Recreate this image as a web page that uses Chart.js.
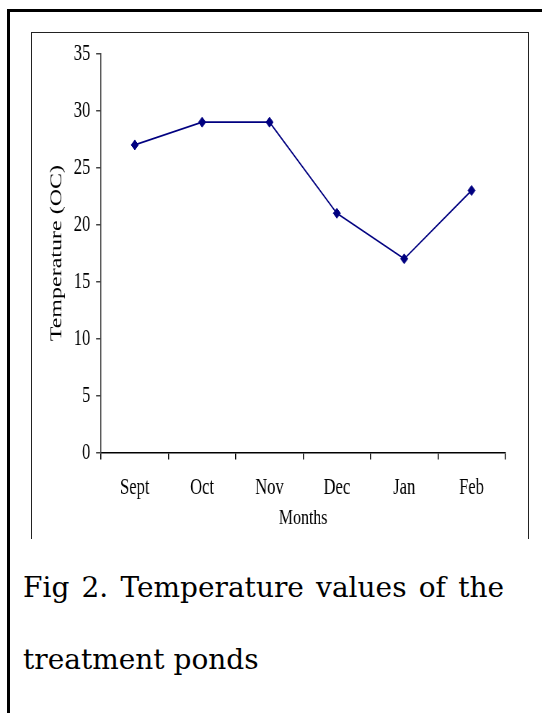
<!DOCTYPE html>
<html>
<head>
<meta charset="utf-8">
<script src="https://cdn.jsdelivr.net/npm/chart.js@4.4.0/dist/chart.umd.min.js"></script>
<style>
html,body{margin:0;padding:0;background:#fff;}
body{width:542px;height:713px;overflow:hidden;position:relative;}
#outer{position:absolute;left:7px;top:9px;width:620px;height:800px;border-left:3px solid #000;border-top:3px solid #000;}
#frame{position:absolute;left:31px;top:32px;width:496px;height:506px;border:1.5px solid #222;border-bottom:none;}
#wrap{position:absolute;left:31px;top:32px;width:691.7px;height:506px;transform:scaleX(0.72);transform-origin:0 0;}
#cap{position:absolute;left:23px;top:552px;width:481px;font-family:"DejaVu Serif",serif;font-size:28px;line-height:72px;color:#000;}
#cap .l1{text-align:justify;text-align-last:justify;}
#cap .l2{text-align:left;}
</style>
</head>
<body>
<div id="outer"></div>
<div id="frame"></div>
<div id="wrap"><canvas id="c"></canvas></div>
<div id="cap"><div class="l1">Fig 2. Temperature values of the</div><div class="l2">treatment ponds</div></div>
<script>
const months = ['Sept', 'Oct', 'Nov', 'Dec', 'Jan', 'Feb'];
const temperature = [27, 29, 29, 21, 17, 23];
const yTicks = [0, 5, 10, 15, 20, 25, 30, 35];
const xTitle = 'Months';
const yTitle = 'Temperature (OC)';

const serif = 'Liberation Serif';

new Chart(document.getElementById('c'), {
  type: 'line',
  data: {
    labels: months,
    datasets: [{
      data: temperature,
      borderColor: '#000080',
      backgroundColor: '#000080',
      borderWidth: 1.7,
      pointStyle: 'rectRot',
      pointRadius: 5,
      pointBorderWidth: 1,
      pointBorderColor: '#000080',
      tension: 0,
      fill: false
    }]
  },
  options: {
    responsive: true,
    maintainAspectRatio: false,
    animation: false,
    layout: { padding: { left: 0, top: 21.5, right: 34, bottom: 0 } },
    plugins: { legend: { display: false }, tooltip: { enabled: false } },
    scales: {
      x: {
        type: 'category',
        offset: true,
        grid: { display: true, offset: true, drawOnChartArea: false, drawTicks: true, tickLength: 7, color: '#000', lineWidth: 1.5 },
        border: { display: true, color: '#000', width: 1.5 },
        ticks: { color: '#000', font: { family: serif, size: 23 }, padding: 15, maxRotation: 0, autoSkip: false },
        title: { display: true, text: xTitle, color: '#000', font: { family: serif, size: 22 }, padding: { top: 0, bottom: 6.8 } },
        afterFit(s) { s.height = 85.5; }
      },
      y: {
        min: yTicks[0],
        max: yTicks[yTicks.length - 1],
        afterBuildTicks(s) { s.ticks = yTicks.map(v => ({ value: v })); },
        grid: { display: true, drawOnChartArea: false, drawTicks: true, tickLength: 7, color: '#444', lineWidth: 1.5 },
        border: { display: true, color: '#444', width: 1.5 },
        ticks: { color: '#000', font: { family: serif, size: 23 }, padding: 8 },
        title: { display: true, text: yTitle, color: '#000', font: { family: serif, size: 24 }, padding: { top: 21.6, bottom: 0 } },
        afterFit(s) { s.width = 97.2; }
      }
    }
  }
});
</script>
</body>
</html>
